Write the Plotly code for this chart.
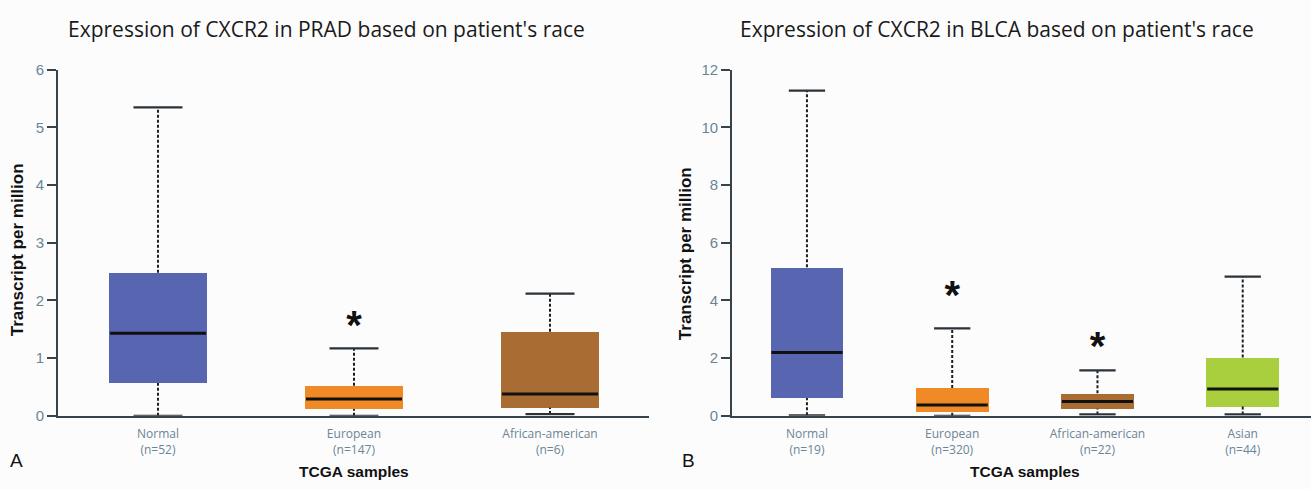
import plotly.graph_objects as go

# ---------------- data ----------------
prad_groups = ["Normal", "European", "African-american"]
prad_n = [52, 147, 6]
prad_lower = [0.0, 0.0, 0.03]
prad_q1 = [0.57, 0.12, 0.14]
prad_median = [1.43, 0.29, 0.38]
prad_q3 = [2.48, 0.52, 1.46]
prad_upper = [5.35, 1.17, 2.12]
prad_star = [None, 1.50, None]

blca_groups = ["Normal", "European", "African-american", "Asian"]
blca_n = [19, 320, 22, 44]
blca_lower = [0.02, 0.0, 0.05, 0.05]
blca_q1 = [0.62, 0.15, 0.25, 0.33]
blca_median = [2.20, 0.38, 0.50, 0.93]
blca_q3 = [5.15, 0.97, 0.78, 2.02]
blca_upper = [11.28, 3.03, 1.58, 4.83]
blca_star = [None, 4.05, 2.30, None]

group_colors = {
    "Normal": "#5866b1",
    "European": "#ef8a26",
    "African-american": "#a96d33",
    "Asian": "#a9cf3f",
}

W, H = 1311, 489
BOXW = 0.5
CAPW = 0.25
AXC = "#34434c"
TICKC = "#6a8594"

fig = go.Figure()


def px_x(p):
    return p / W


def px_y(p):
    return 1 - p / H


def add_panel(groups, n, lower, q1, med, q3, upper, stars, xa, ya):
    xs = list(range(len(groups)))
    # whiskers (dashed)
    wx, wy = [], []
    for i in xs:
        wx += [i, i, None, i, i, None]
        wy += [q3[i], upper[i], None, lower[i], q1[i], None]
    fig.add_trace(go.Scatter(x=wx, y=wy, mode="lines", xaxis=xa, yaxis=ya,
                             line=dict(color="#1e1e1e", width=2, dash="3px,2px"),
                             hoverinfo="skip", showlegend=False))
    # boxes
    fig.add_trace(go.Bar(x=xs, y=[q3[i] - q1[i] for i in xs], base=q1, width=BOXW,
                         marker=dict(color=[group_colors[g] for g in groups], line=dict(width=0)),
                         xaxis=xa, yaxis=ya, showlegend=False))
    # caps
    cx, cy = [], []
    for i in xs:
        cx += [i - CAPW / 2, i + CAPW / 2, None, i - CAPW / 2, i + CAPW / 2, None]
        cy += [upper[i], upper[i], None, lower[i], lower[i], None]
    fig.add_trace(go.Scatter(x=cx, y=cy, mode="lines", xaxis=xa, yaxis=ya,
                             line=dict(color="#2b3238", width=2.2),
                             hoverinfo="skip", showlegend=False))
    # medians
    mx, my = [], []
    for i in xs:
        mx += [i - BOXW / 2 + 0.005, i + BOXW / 2 - 0.005, None]
        my += [med[i], med[i], None]
    fig.add_trace(go.Scatter(x=mx, y=my, mode="lines", xaxis=xa, yaxis=ya,
                             line=dict(color="#111111", width=3),
                             hoverinfo="skip", showlegend=False))
    # significance stars
    sx = [i for i in xs if stars[i] is not None]
    sy = [stars[i] for i in xs if stars[i] is not None]
    fig.add_trace(go.Scatter(x=sx, y=sy, mode="text", text=["<b>*</b>"] * len(sx),
                             textposition="middle center",
                             textfont=dict(size=40, color="#111111", family="Liberation Sans"),
                             xaxis=xa, yaxis=ya, hoverinfo="skip", showlegend=False))
    return xs


xs1 = add_panel(prad_groups, prad_n, prad_lower, prad_q1, prad_median, prad_q3,
                prad_upper, prad_star, "x", "y")
xs2 = add_panel(blca_groups, blca_n, blca_lower, blca_q1, blca_median, blca_q3,
                blca_upper, blca_star, "x2", "y2")

ydom = [px_y(421.5), px_y(63)]

xcommon = dict(showline=True, linecolor=AXC, linewidth=1.6, ticks="", showgrid=False,
               zeroline=False, tickfont=dict(family="Open Sans", size=12, color=TICKC),
               ticklabelstandoff=6, fixedrange=True)
ycommon = dict(showline=True, linecolor=AXC, linewidth=1.6, ticks="outside", ticklen=9,
               tickwidth=1.6, tickcolor=AXC, showgrid=False, zeroline=False,
               tickfont=dict(family="Liberation Sans", size=15, color=TICKC))

fig.update_layout(
    width=W, height=H,
    margin=dict(l=0, r=0, t=0, b=0),
    paper_bgcolor="#fcfcfd", plot_bgcolor="#fcfcfd",
    bargap=0,
    xaxis=dict(domain=[px_x(58), px_x(649)], range=[-0.51, 2.505],
               tickvals=xs1, ticktext=[f"{g}<br>(n={k})" for g, k in zip(prad_groups, prad_n)],
               anchor="y", **xcommon),
    yaxis=dict(domain=ydom, range=[0, 6], dtick=1, anchor="x", **ycommon),
    xaxis2=dict(domain=[px_x(732), 1.0], range=[-0.516, 3.47],
                tickvals=xs2, ticktext=[f"{g}<br>(n={k})" for g, k in zip(blca_groups, blca_n)],
                anchor="y2", **xcommon),
    yaxis2=dict(domain=ydom, range=[0, 12], dtick=2, anchor="x2", **ycommon),
)

title_font = dict(family="Open Sans", size=21, color="#1a1a1a")
ytitle_font = dict(family="Liberation Sans", size=17, color="#111111")
xtitle_font = dict(family="Liberation Sans", size=15.5, color="#111111")
annots = [
    dict(text="Expression of CXCR2 in PRAD based on patient's race", x=px_x(326), y=px_y(21),
         font=title_font),
    dict(text="Expression of CXCR2 in BLCA based on patient's race", x=px_x(997), y=px_y(21),
         font=title_font),
    dict(text="<b>Transcript per million</b>", x=px_x(17), y=px_y(250), textangle=-90,
         font=ytitle_font),
    dict(text="<b>Transcript per million</b>", x=px_x(685), y=px_y(254), textangle=-90,
         font=ytitle_font),
    dict(text="<b>TCGA samples</b>", x=px_x(354), y=px_y(479), font=xtitle_font),
    dict(text="<b>TCGA samples</b>", x=px_x(1025), y=px_y(479), font=xtitle_font),
    dict(text="A", x=px_x(16), y=px_y(468), font=dict(family="Liberation Sans", size=19, color="#111")),
    dict(text="B", x=px_x(688), y=px_y(468), font=dict(family="Liberation Sans", size=19, color="#111")),
]
for a in annots:
    fig.add_annotation(xref="paper", yref="paper", xanchor="center", yanchor="middle",
                       showarrow=False, **a)

fig.write_html("out.html")
